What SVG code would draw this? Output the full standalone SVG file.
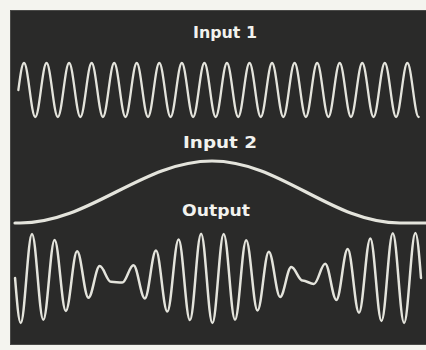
<svg xmlns="http://www.w3.org/2000/svg" width="426" height="350" viewBox="0 0 426 350">
<style>
.lbl{font-family:"DejaVu Sans","Liberation Sans",sans-serif;font-weight:bold;fill:#f2f2ee;text-anchor:middle}
.wave{fill:none;stroke:#e4e4dc;stroke-linecap:round;stroke-linejoin:round}
</style>
<rect x="0" y="0" width="426" height="350" fill="#f4f4ef"/>
<rect id="screen" x="10.5" y="10.5" width="416" height="334" fill="#2a2a29" stroke="#4a4a48" stroke-width="1"/>
<g id="input1">
<text class="lbl" x="225" y="38" font-size="15" textLength="64" lengthAdjust="spacingAndGlyphs">Input 1</text>
<path class="wave" stroke-width="2.3" d="M18.36,90 c1.84,-13.83 3.6,-27 5.64,-27 c4.1,0 7.17,54 11.275,54 c4.1,0 7.17,-54 11.275,-54 c4.1,0 7.17,54 11.275,54 c4.1,0 7.17,-54 11.275,-54 c4.1,0 7.17,54 11.275,54 c4.1,0 7.17,-54 11.275,-54 c4.1,0 7.17,54 11.275,54 c4.1,0 7.17,-54 11.275,-54 c4.1,0 7.17,54 11.275,54 c4.1,0 7.17,-54 11.275,-54 c4.1,0 7.17,54 11.275,54 c4.1,0 7.17,-54 11.275,-54 c4.1,0 7.17,54 11.275,54 c4.1,0 7.17,-54 11.275,-54 c4.1,0 7.17,54 11.275,54 c4.1,0 7.17,-54 11.275,-54 c4.1,0 7.17,54 11.275,54 c4.1,0 7.17,-54 11.275,-54 c4.1,0 7.17,54 11.275,54 c4.1,0 7.17,-54 11.275,-54 c4.1,0 7.17,54 11.275,54 c4.1,0 7.17,-54 11.275,-54 c4.1,0 7.17,54 11.275,54 c4.1,0 7.17,-54 11.275,-54 c4.1,0 7.17,54 11.275,54 c4.1,0 7.17,-54 11.275,-54 c4.1,0 7.17,54 11.275,54 c4.1,0 7.17,-54 11.275,-54 c4.1,0 7.17,54 11.275,54 c4.1,0 7.17,-54 11.275,-54 c4.1,0 7.17,54 11.275,54 c4.1,0 7.17,-54 11.275,-54 c4.1,0 7.17,54 11.275,54 c4.1,0 7.17,-54 11.275,-54 c4.1,0 7.17,54 11.275,54"/>
</g>
<g id="input2">
<text class="lbl" x="220" y="148" font-size="16" textLength="74" lengthAdjust="spacingAndGlyphs">Input 2</text>
<path class="wave" stroke-width="3.2" stroke="#f0f0ea" d="M15,223 H20 C89.9,223 142.1,161 212,161 C280.4,161 331.6,223 400,223 H426"/>
</g>
<g id="output">
<text class="lbl" x="216" y="216" font-size="15" textLength="68" lengthAdjust="spacingAndGlyphs">Output</text>
<path class="wave" stroke-width="2.5" d="M15.06,278 C16.9,301 18.7,323 20.7,323 C24.8,323 27.9,233.9 32,233.9 C36.1,233.9 39.2,319.8 43.3,319.8 C47.4,319.8 50.5,240 54.6,240 C58.7,240 61.7,310.9 65.8,310.9 C69.9,310.9 73,251.3 77.1,251.3 C81.2,251.3 84.3,297.7 88.4,297.7 C92.5,297.7 95.6,266.1 99.7,266.1 C103.8,266.1 106.8,281.7 110.9,281.7 C115,281.7 118.1,282.6 122.2,282.6 C126.3,282.6 129.4,265.3 133.5,265.3 C137.6,265.3 140.7,298.4 144.8,298.4 C148.9,298.4 151.9,250.6 156,250.6 C160.1,250.6 163.2,311.5 167.3,311.5 C171.4,311.5 174.5,239.6 178.6,239.6 C182.7,239.6 185.8,320.1 189.9,320.1 C194,320.1 197,233.7 201.1,233.7 C205.2,233.7 208.3,323 212.4,323 C216.5,323 219.6,233.9 223.7,233.9 C227.8,233.9 230.9,319.7 235,319.7 C239.1,319.7 242.1,240.2 246.2,240.2 C250.3,240.2 253.4,310.6 257.5,310.6 C261.6,310.6 264.7,251.8 268.8,251.8 C272.9,251.8 276,296.9 280.1,296.9 C284.2,296.9 287.2,267.1 291.3,267.1 C295.4,267.1 298.5,280.6 302.6,280.6 C306.7,280.6 309.8,283.9 313.9,283.9 C318,283.9 321.1,263.8 325.2,263.8 C329.3,263.8 332.3,299.9 336.4,299.9 C340.5,299.9 343.6,249.1 347.7,249.1 C351.8,249.1 354.9,312.8 359,312.8 C363.1,312.8 366.2,238.4 370.3,238.4 C374.4,238.4 377.4,320.9 381.5,320.9 C385.6,320.9 388.7,233.3 392.8,233.3 C396.9,233.3 400,323 404.1,323 C408.2,323 411.3,233 415.4,233 C417.4,233 419.2,255 421,278"/>
</g>
</svg>
